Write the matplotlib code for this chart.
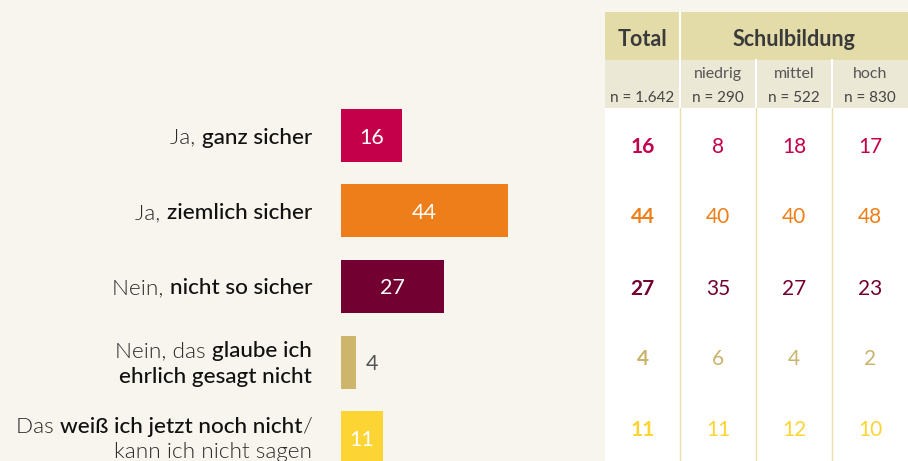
import matplotlib
matplotlib.use("Agg")
import matplotlib.pyplot as plt
from matplotlib.offsetbox import TextArea, HPacker, VPacker, AnnotationBbox
from matplotlib.patches import Rectangle

# ---------------- data ----------------
label_parts = [
    [[("Ja, ", "light"), ("ganz sicher", "bold")]],
    [[("Ja, ", "light"), ("ziemlich sicher", "bold")]],
    [[("Nein, ", "light"), ("nicht so sicher", "bold")]],
    [[("Nein, das ", "light"), ("glaube ich", "bold")],
     [("ehrlich gesagt nicht", "bold")]],
    [[("Das ", "light"), ("weiß ich jetzt noch nicht", "bold"), ("/", "light")],
     [("kann ich nicht sagen", "light")]],
]
total_values = [16, 44, 27, 4, 11]
niedrig_values = [8, 40, 35, 6, 11]
mittel_values = [18, 40, 27, 4, 12]
hoch_values = [17, 48, 23, 2, 10]
col_headers = ["", "niedrig", "mittel", "hoch"]
n_labels = ["n = 1.642", "n = 290", "n = 522", "n = 830"]
bar_colors = ["#C4004A", "#EE7E1A", "#720030", "#CDB56B", "#FCD433"]
text_colors = ["#C4004A", "#EE7E1A", "#720030", "#C9B46E", "#FCD433"]

FONT = "Lato"
BG = "#F8F5EE"
W, H = 908, 461

fig = plt.figure(figsize=(W / 100, H / 100), dpi=100, facecolor=BG)

def fx(px):
    return px / W

def fy(py):
    return 1 - py / H

# ---------------- bar axes ----------------
row_h = 75.5
top_center = 135.5
y_top_px = top_center - row_h / 2
ax = fig.add_axes([fx(341), 0, fx(341 + 3.8 * 60) - fx(341), (H - y_top_px) / H])
ax.set_facecolor("none")
n = len(total_values)
ax.set_xlim(0, 60)
ax.set_ylim((H - top_center) / row_h, -0.5)
ax.axis("off")
ypos = list(range(n))
ax.barh(ypos, total_values, height=53 / row_h, color=bar_colors)

for i, v in enumerate(total_values):
    if v >= 8:
        ax.annotate(str(v), xy=(v / 2, i), xytext=(0, -2), textcoords="offset pixels",
                    ha="center", va="center", color="white",
                    fontsize=15.5, family=FONT, fontweight=400)
    else:
        ax.annotate(str(v), xy=(v, i), xytext=(10, -2), textcoords="offset pixels",
                    ha="left", va="center", color="#555555", fontsize=15.5,
                    family=FONT, fontweight=400)

# category labels with mixed weights
for i, lines in enumerate(label_parts):
    rows = []
    for line in lines:
        parts = []
        for txt, wt in line:
            parts.append(TextArea(txt, textprops=dict(
                family=FONT, fontsize=16.2,
                fontweight=500 if wt == "bold" else 300,
                color="#111111" if wt == "bold" else "#2a2a2a")))
        rows.append(HPacker(children=parts, align="baseline", pad=0, sep=0))
    box = VPacker(children=rows, align="right", pad=0, sep=4)
    ab = AnnotationBbox(box, (0, i), xybox=(-29, -2),
                        xycoords="data", boxcoords="offset pixels",
                        box_alignment=(1, 0.5), frameon=False, pad=0,
                        annotation_clip=False)
    ax.add_artist(ab)

# ---------------- table ----------------
tab = fig.add_axes([fx(605), 0, 1 - fx(605), fy(12)])
tab.set_xlim(0, 4)
tab_top_px = 12
total_px = H - tab_top_px
tab.set_ylim(0, total_px)
tab.axis("off")

col_px = [605, 680, 756, 832, 908]
def cx(px):
    return (px - 605) / (908 - 605) * 4

def ty(py):
    return H - py

tab.add_patch(Rectangle((cx(605), ty(60)), cx(908) - cx(605), 48, color="#E3DCA9", lw=0))
tab.add_patch(Rectangle((cx(605), ty(108)), cx(908) - cx(605), 48, color="#ECE8D6", lw=0))
tab.add_patch(Rectangle((cx(605), 0), cx(908) - cx(605), ty(108), color="white", lw=0))
tab.plot([cx(680), cx(680)], [ty(12), ty(60)], color="white", lw=1.5)
for px in [680, 756, 832]:
    tab.plot([cx(px), cx(px)], [ty(60), ty(108)], color="white", lw=1.5)
    tab.plot([cx(px), cx(px)], [0, ty(108)], color="#E8E0B0", lw=1.0)

tab.text((cx(605) + cx(680)) / 2, ty(39), "Total", ha="center", va="center",
         fontsize=15.5, fontweight="bold", family=FONT, color="#3a3a3a")
tab.text((cx(680) + cx(908)) / 2, ty(39), "Schulbildung", ha="center", va="center",
         fontsize=15.5, fontweight="bold", family=FONT, color="#3a3a3a")

centers = [(cx(col_px[j]) + cx(col_px[j + 1])) / 2 for j in range(4)]
for j in range(4):
    tab.text(centers[j], ty(74), col_headers[j], ha="center", va="center",
             fontsize=11.5, family=FONT, color="#555555")
    tab.text(centers[j], ty(98), n_labels[j], ha="center", va="center",
             fontsize=11, family=FONT, color="#444444")

row_y = [147, 217, 289, 359, 430]
columns = [total_values, niedrig_values, mittel_values, hoch_values]
for j, vals in enumerate(columns):
    for i, v in enumerate(vals):
        tab.text(centers[j], ty(row_y[i]), str(v), ha="center", va="center",
                 fontsize=15, family=FONT, color=text_colors[i],
                 fontweight="bold" if j == 0 else "normal")

fig.savefig("out.png", dpi=100, facecolor=BG)
